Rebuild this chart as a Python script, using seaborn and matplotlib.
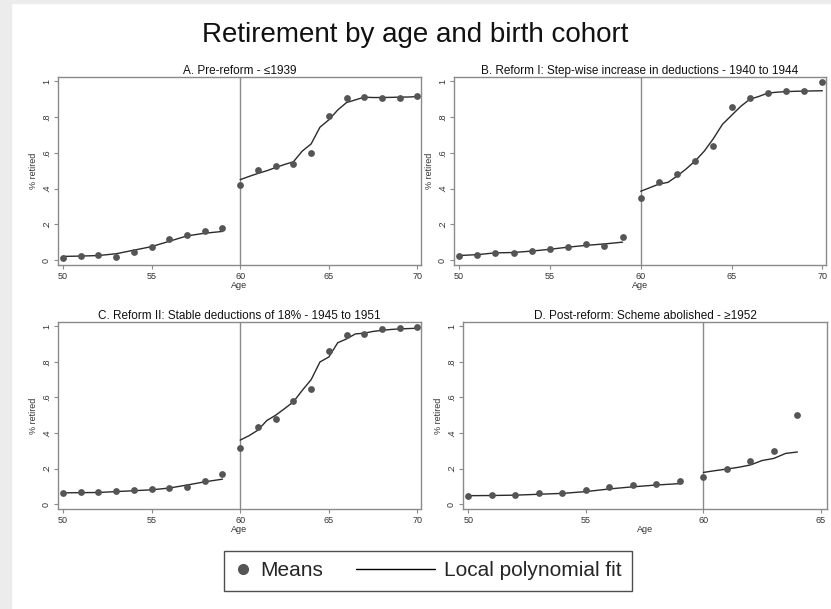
"""
Retirement by age and birth cohort - four panel RDD style chart.
"""

import matplotlib
matplotlib.use("Agg")
import matplotlib.pyplot as plt
from matplotlib.lines import Line2D
from matplotlib.legend_handler import HandlerLine2D
import seaborn as sns

# ---- data ----
AGES = list(range(50, 71))
AGES_D = list(range(50, 65))

MEANS_A = [0.01, 0.02, 0.03, 0.015, 0.045, 0.075, 0.115, 0.14, 0.16, 0.18,
           0.42, 0.505, 0.525, 0.54, 0.60, 0.805, 0.905, 0.915, 0.91, 0.91, 0.92]
MEANS_B = [0.022, 0.03, 0.04, 0.04, 0.05, 0.06, 0.075, 0.09, 0.08, 0.13,
           0.35, 0.435, 0.48, 0.557, 0.64, 0.858, 0.908, 0.938, 0.945, 0.944, 0.996]
MEANS_C = [0.06, 0.067, 0.065, 0.075, 0.08, 0.082, 0.092, 0.095, 0.13, 0.167,
           0.318, 0.436, 0.48, 0.582, 0.648, 0.86, 0.95, 0.957, 0.985, 0.989, 0.998]
MEANS_D = [0.045, 0.049, 0.052, 0.06, 0.06, 0.077, 0.097, 0.107, 0.112, 0.131,
           0.15, 0.199, 0.245, 0.30, 0.50]

# local polynomial fit, below the cutoff (ages 50-59)
FIT_LEFT_X = list(range(50, 60))
FIT_A_LEFT = [0.02, 0.022, 0.025, 0.035, 0.055, 0.075, 0.105, 0.135, 0.15, 0.16]
FIT_B_LEFT = [0.025, 0.03, 0.04, 0.042, 0.05, 0.06, 0.072, 0.082, 0.09, 0.10]
FIT_C_LEFT = [0.063, 0.064, 0.065, 0.07, 0.075, 0.08, 0.09, 0.107, 0.125, 0.14]
FIT_D_LEFT = [0.047, 0.048, 0.05, 0.055, 0.06, 0.07, 0.085, 0.097, 0.107, 0.115]

# local polynomial fit, from the cutoff on (half-year steps)
FIT_RIGHT_X = [60, 60.5, 61, 61.5, 62, 62.5, 63, 63.5, 64, 64.5, 65,
               65.5, 66, 66.5, 67, 67.5, 68, 68.5, 69, 69.5, 70]
FIT_A_RIGHT = [0.45, 0.468, 0.485, 0.50, 0.518, 0.535, 0.55, 0.61, 0.65, 0.744, 0.785,
               0.84, 0.882, 0.897, 0.912, 0.91, 0.91, 0.911, 0.912, 0.913, 0.915]
FIT_B_RIGHT = [0.385, 0.405, 0.425, 0.435, 0.47, 0.51, 0.555, 0.61, 0.68, 0.76, 0.81,
               0.86, 0.90, 0.916, 0.935, 0.94, 0.943, 0.945, 0.946, 0.947, 0.948]
FIT_C_RIGHT = [0.36, 0.385, 0.416, 0.47, 0.50, 0.537, 0.575, 0.64, 0.70, 0.80, 0.828,
               0.908, 0.93, 0.958, 0.962, 0.972, 0.978, 0.983, 0.986, 0.988, 0.99]
FIT_D_RIGHT_X = [60, 60.5, 61, 61.5, 62, 62.5, 63, 63.5, 64]
FIT_D_RIGHT = [0.178, 0.188, 0.197, 0.207, 0.22, 0.245, 0.257, 0.285, 0.293]

TITLES = [
    "A. Pre-reform - \u22641939",
    "B. Reform I: Step-wise increase in deductions - 1940 to 1944",
    "C. Reform II: Stable deductions of 18% - 1945 to 1951",
    "D. Post-reform: Scheme abolished - \u22651952",
]
YTICKS = [0, 0.2, 0.4, 0.6, 0.8, 1]
YTICK_LABELS = ["0", ".2", ".4", ".6", ".8", "1"]

DOT_COLOR = "#555555"
LINE_COLOR = "#2b2b2b"
FRAME_COLOR = "#8a8a8a"

sns.set_style("white")
plt.rcParams["font.family"] = ["Liberation Sans", "DejaVu Sans"]

W, H = 831, 609
fig = plt.figure(figsize=(W / 100, H / 100), dpi=100)
fig.patch.set_facecolor("white")

# light grey frame strips like the screenshot
fig.add_artist(plt.Rectangle((0, 0), 11 / W, 1, transform=fig.transFigure,
                             color="#ececec", zorder=-1))
fig.add_artist(plt.Rectangle((0, 1 - 3 / H), 1, 3 / H, transform=fig.transFigure,
                             color="#ececec", zorder=-1))


def px_axes(left, top, right, bottom):
    return fig.add_axes([left / W, 1 - bottom / H, (right - left) / W, (bottom - top) / H])


panels = [
    (px_axes(58, 77, 421, 265), AGES, MEANS_A, FIT_A_LEFT, FIT_RIGHT_X, FIT_A_RIGHT,
     (49.72, 70.2), [50, 55, 60, 65, 70]),
    (px_axes(454, 77, 826, 265), AGES, MEANS_B, FIT_B_LEFT, FIT_RIGHT_X, FIT_B_RIGHT,
     (49.72, 70.2), [50, 55, 60, 65, 70]),
    (px_axes(58, 322, 421, 509), AGES, MEANS_C, FIT_C_LEFT, FIT_RIGHT_X, FIT_C_RIGHT,
     (49.72, 70.2), [50, 55, 60, 65, 70]),
    (px_axes(463, 322, 827, 509), AGES_D, MEANS_D, FIT_D_LEFT, FIT_D_RIGHT_X, FIT_D_RIGHT,
     (49.77, 65.26), [50, 55, 60, 65]),
]

for (ax, ages, means, fit_l, fit_rx, fit_r, xlim, xticks), title in zip(panels, TITLES):
    ax.axvline(60, color=FRAME_COLOR, lw=1.0, zorder=1)
    sns.lineplot(x=FIT_LEFT_X, y=fit_l, ax=ax, color=LINE_COLOR, lw=1.0, zorder=2)
    sns.lineplot(x=fit_rx, y=fit_r, ax=ax, color=LINE_COLOR, lw=1.0, zorder=2)
    sns.scatterplot(x=ages, y=means, ax=ax, color=DOT_COLOR, s=24,
                    edgecolor=DOT_COLOR, linewidth=0, zorder=3)

    ax.set_xlim(*xlim)
    ax.set_ylim(-0.028, 1.025)
    ax.set_xticks(xticks)
    ax.set_yticks(YTICKS)
    ax.set_yticklabels(YTICK_LABELS, rotation=90, va="center")
    ax.tick_params(axis="both", direction="out", length=3, width=0.8, bottom=True,
                   left=True, color=FRAME_COLOR, labelsize=6.5, pad=2,
                   labelcolor="#333333")
    for sp in ax.spines.values():
        sp.set_color(FRAME_COLOR)
        sp.set_linewidth(1.0)
    ax.set_xlabel("Age", fontsize=6.5, labelpad=0, color="#333333")
    ax.set_ylabel("% retired", fontsize=6.5, labelpad=3, color="#333333")
    ax.set_title(title, fontsize=8.5, pad=2, color="#111111")

fig.text(0.5, 1 - 35 / H, "Retirement by age and birth cohort", ha="center",
         va="center", fontsize=20, color="#111111")


class LongLineHandler(HandlerLine2D):
    # stretch the legend line to the left, into the column gap
    def get_xdata(self, legend, xdescent, ydescent, width, height, fontsize):
        xdata, xdata_marker = super().get_xdata(legend, xdescent, ydescent,
                                                width, height, fontsize)
        return [-xdescent - 3.0 * fontsize, -xdescent + width], xdata_marker


means_handle = Line2D([], [], marker="o", ls="", color=DOT_COLOR, markersize=7,
                      label="Means")
fit_handle = Line2D([], [], color="black", lw=1.0, label="Local polynomial fit")
leg = fig.legend(handles=[means_handle, fit_handle], loc="center",
                 bbox_to_anchor=(428 / W, 1 - 571 / H), ncol=2, fontsize=15,
                 frameon=True, fancybox=False, handlelength=0.8, numpoints=1,
                 columnspacing=4.6, handletextpad=0.4, borderpad=0.5,
                 handler_map={fit_handle: LongLineHandler()})
leg.get_frame().set_edgecolor("#222222")
leg.get_frame().set_linewidth(1.0)

fig.savefig("out.png", dpi=100)
